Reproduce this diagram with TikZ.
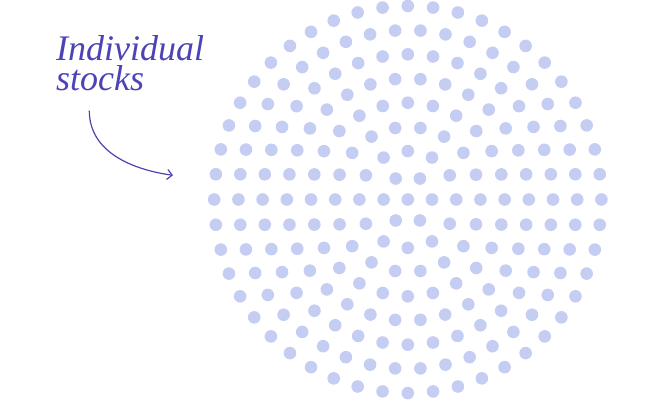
\documentclass[tikz,border=0pt]{standalone}
\usepackage{fontspec}
\setmainfont{Liberation Serif}
\usetikzlibrary{arrows.meta}
\definecolor{ink}{HTML}{4B43B6}
\definecolor{dotblue}{HTML}{C5CDF2}

\begin{document}
\begin{tikzpicture}[
  dot/.style={fill=dotblue},
  arr/.style={-{Straight Barb[length=5bp,width=10bp]},line width=1.2bp,draw=ink}]

\useasboundingbox (0bp,0bp) rectangle (654bp,-400bp);

\node (lbl) at (56bp,-90bp)[anchor=base west,inner sep=0pt,align=left,text=ink,
  font=\fontsize{36bp}{30bp}\selectfont\itshape] {Individual\\stocks};
\coordinate (tail) at (89.3bp,-110.7bp);
\coordinate (head) at (173bp,-175.3bp);
\draw [arr] (tail) to[out=-90,in=172] (head);

% rings of dots round the middle one
\coordinate (mid) at (407.8bp,-199.5bp);
\fill [dot] (mid) circle (6.3bp);
\foreach \k in {1,...,8}{
  \pgfmathtruncatemacro{\n}{6*\k}
  \pgfmathsetmacro{\stp}{360/\n}
  \pgfmathsetmacro{\off}{mod(\k,2)*0.5}
  \foreach \j in {1,...,\n}{
    \fill [dot,shift={(mid)}] ({90+\stp*(\j+\off)}:{\k*24.2bp}) circle (6.3bp);
  }
}
\end{tikzpicture}
\end{document}
